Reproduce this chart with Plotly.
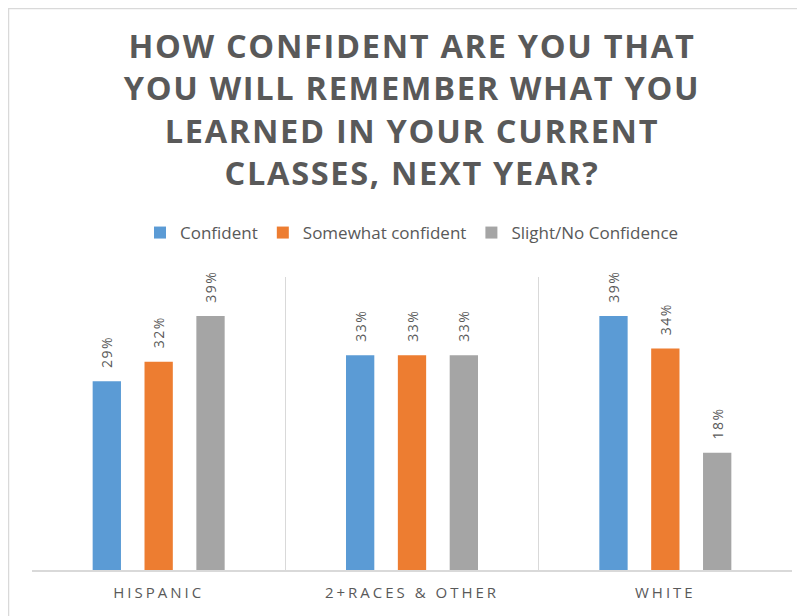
import plotly.graph_objects as go

categories = ["HISPANIC", "2+RACES & OTHER", "WHITE"]
series_names = ["Confident", "Somewhat confident", "Slight/No Confidence"]
confident = [0.29, 0.33, 0.39]
somewhat = [0.32, 0.33, 0.34]
slight = [0.39, 0.33, 0.18]
colors = ["#5B9BD5", "#ED7D31", "#A5A5A5"]

title_lines = ["HOW CONFIDENT ARE YOU THAT", "YOU WILL REMEMBER WHAT YOU",
               "LEARNED IN YOUR CURRENT", "CLASSES, NEXT YEAR?"]


def spaced(s, px):
    return f'<span style="letter-spacing:{px}px">{s}</span>'


title_text = "<br>".join(spaced(t, 1.7) for t in title_lines)

# page body has an 8px margin, so the figure is 8px smaller than the window
W, H = 797, 608
ml, mr, mt, mb = 24, 13, 269, 46
pw = W - ml - mr
ph = H - mt - mb

fig = go.Figure()
for name, vals, col in zip(series_names, [confident, somewhat, slight], colors):
    fig.add_trace(go.Bar(
        x=categories, y=vals, name=name,
        marker=dict(color=col, line=dict(width=0)),
        text=[spaced("\u00a0\u00a0" + f"{round(v*100)}%", 1.5) for v in vals],
        textposition="outside", textangle=-90, constraintext="none",
        textfont=dict(family="Open Sans", size=14, color="#595959"),
        cliponaxis=False,
    ))

fig.update_layout(
    width=W, height=H,
    margin=dict(l=ml, r=mr, t=mt, b=mb, autoexpand=False),
    paper_bgcolor="white", plot_bgcolor="white",
    barmode="group", bargap=0.386, bargroupgap=0.454,
    title=dict(text=title_text, x=0.5, xref="paper", xanchor="center",
               y=1 - 50 / H, yanchor="top",
               font=dict(family="Open Sans", size=32.5, color="#595959", weight="bold")),
    legend=dict(orientation="h", x=0.5, xanchor="center", y=1 + (mt - 225) / ph,
                yanchor="middle",
                font=dict(family="Open Sans", size=17, color="#595959"),
                itemwidth=30, traceorder="normal"),
    xaxis=dict(tickson="boundaries", showgrid=True, gridcolor="#D9D9D9", gridwidth=1,
               showline=True, linecolor="#D9D9D9", linewidth=2,
               ticks="", range=[-0.5, 2.5],
               tickmode="array", tickvals=categories,
               ticktext=[spaced(c, 3) for c in categories],
               ticklabelstandoff=8,
               tickfont=dict(family="Open Sans", size=15, color="#595959")),
    yaxis=dict(range=[0, 0.45], showgrid=False, showticklabels=False, zeroline=False,
               showline=False),
    shapes=[dict(type="rect", xref="paper", yref="paper",
                 x0=(0.5 - ml) / pw, x1=(W + 10 - ml) / pw,
                 y0=-(mb + 10) / ph, y1=(ph + mt - 0.5) / ph,
                 line=dict(color="#D9D9D9", width=1.5), layer="below")],
)
fig.write_html("out.html")
